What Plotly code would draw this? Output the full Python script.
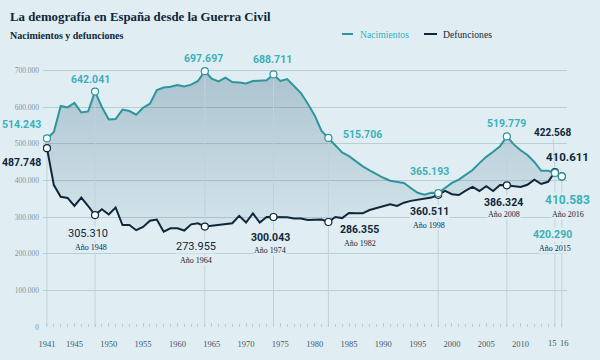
import plotly.graph_objects as go

# ---------------- data ----------------
years = list(range(1941, 2017))
births = [
    514243, 532000, 603000, 599000, 611000, 585000, 588000, 642041, 600000, 566000,
    567000, 593000, 589000, 579000, 598000, 609000, 646000, 653000, 655000, 660000,
    656000, 661000, 671000, 697697, 677000, 670000, 680000, 668000, 667000, 664000,
    671000, 671000, 673000, 688711, 671000, 676000, 656000, 638000, 609000, 577000,
    535000, 515706, 494000, 476000, 466000, 452000, 438000, 427000, 416000, 407000,
    399000, 395000, 393000, 379000, 366000, 361000, 366000, 365193, 379000, 393000,
    402000, 416000, 428000, 447000, 464000, 478000, 493000, 519779, 498000, 482000,
    469000, 450000, 426000, 426000, 420290, 410583,
]
deaths = [
    487748, 387000, 355000, 352000, 330000, 353000, 330000, 305310, 321000, 307000,
    326000, 278000, 278000, 264000, 273000, 290000, 293000, 260000, 269000, 269000,
    263000, 280000, 283000, 273955, 276000, 278000, 282000, 283000, 303000, 285000,
    310000, 285000, 300000, 300043, 300000, 299000, 296000, 296000, 292000, 292000,
    293000, 286355, 300000, 297000, 311000, 310000, 310000, 319000, 325000, 330000,
    335000, 330000, 339000, 344000, 347000, 350000, 353000, 360511, 371000, 362000,
    360000, 372000, 382000, 371000, 384000, 371000, 387000, 386324, 384000, 382000,
    388000, 402000, 390000, 396000, 422568, 410611,
]
hl_years = [1941, 1948, 1964, 1974, 1982, 1998, 2008, 2015, 2016]
x_tick_vals = [1941, 1945, 1950, 1955, 1960, 1965, 1970, 1975, 1980, 1985,
               1990, 1995, 2000, 2005, 2010]
x_tick_text = ["1941", "1945", "1950", "1955", "1960", "1965", "1970", "1975", "1980",
               "1985", "1990", "1995", "2000", "2005", "2010"]
x_end_ticks = [2015, 2016]
x_end_text = ["15", "16"]
y_tick_vals = [0, 100000, 200000, 300000, 400000, 500000, 600000, 700000]
series_names = ["Nacimientos", "Defunciones"]
title_text = "La demografía en España desde la Guerra Civil"
subtitle_text = "Nacimientos y defunciones"

# ---------------- styles ----------------
BG = "#e0eef3"
TEAL_LINE = "#2e959c"
TEAL_TEXT = "#3cb0b8"
DARK = "#10263a"
GRID = "#b8cdd6"
VLINE = "#bfd2da"
TICK_TXT = "#3f5969"
SERIF = "Liberation Serif"
SANS = "Roboto"

B = dict(zip(years, births))
D = dict(zip(years, deaths))


def fmt(v):
    return f"{v:,}".replace(",", ".")


# plot area in pixels: left 43, right 567, top ~63, bottom 327
L, R, T, BOT = 43, 33, 63, 33
PW, PH = 600 - L - R, 360 - T - BOT


def px(xp):
    return (xp - L) / PW


def py(yp):
    return (360 - BOT - yp) / PH


fig = go.Figure()

# fill base (deaths, invisible line)
fig.add_trace(go.Scatter(x=years, y=deaths, mode="lines", line=dict(width=0, color=DARK),
                         showlegend=False, hoverinfo="skip"))
# fill between births and deaths with vertical gradient
fig.add_trace(go.Scatter(
    x=years, y=births, mode="lines", line=dict(width=0, color=TEAL_LINE),
    fill="tonexty",
    fillgradient=dict(type="vertical", start=250000, stop=700000,
                      colorscale=[[0, "rgba(40,90,120,0.06)"], [1, "rgba(40,90,120,0.29)"]]),
    showlegend=False, hoverinfo="skip"))

# vertical reference lines at highlighted years
for yr in hl_years:
    fig.add_trace(go.Scatter(x=[yr, yr], y=[0, max(B[yr], D[yr])], mode="lines",
                             line=dict(color=VLINE, width=1), showlegend=False,
                             hoverinfo="skip"))

# lines
fig.add_trace(go.Scatter(x=years, y=births, mode="lines", name=series_names[0],
                         line=dict(color=TEAL_LINE, width=2), showlegend=False))
fig.add_trace(go.Scatter(x=years, y=deaths, mode="lines", name=series_names[1],
                         line=dict(color=DARK, width=2), showlegend=False))

# highlighted markers
fig.add_trace(go.Scatter(x=hl_years, y=[D[y] for y in hl_years], mode="markers",
                         marker=dict(size=7, color="white", line=dict(color=DARK, width=1.2)),
                         showlegend=False, hoverinfo="skip"))
fig.add_trace(go.Scatter(x=hl_years, y=[B[y] for y in hl_years], mode="markers",
                         marker=dict(size=7, color="white", line=dict(color=TEAL_LINE, width=1.2)),
                         showlegend=False, hoverinfo="skip"))

ann = []


def lab(yr, val, text, color, size, dx, dy, family=SANS, bold=True, anchor="center", bg=True):
    ann.append(dict(
        x=yr, y=val, xref="x", yref="y", text=f"<b>{text}</b>" if bold else text,
        showarrow=False, xshift=dx, yshift=dy, xanchor=anchor, yanchor="middle",
        font=dict(family=family, size=size, color=color),
        bgcolor=BG if bg else "rgba(0,0,0,0)", borderpad=0))


def ano(yr, val, dx, dy):
    lab(yr, val, f"Año {yr}", DARK, 8, dx, dy, family=SERIF, bold=False)


# births labels (teal)
lab(1941, B[1941], fmt(B[1941]), TEAL_TEXT, 10.5, -5, 14, anchor="right", bg=False)
lab(1948, B[1948], fmt(B[1948]), TEAL_TEXT, 10.5, -5, 12, bg=False)
lab(1964, B[1964], fmt(B[1964]), TEAL_TEXT, 10.5, -1, 13, bg=False)
lab(1974, B[1974], fmt(B[1974]), TEAL_TEXT, 10.5, -1, 15, bg=False)
lab(1982, B[1982], fmt(B[1982]), TEAL_TEXT, 10.5, 14, 3, anchor="left", bg=False)
lab(1998, B[1998], fmt(B[1998]), TEAL_TEXT, 10.5, -9, 22, bg=False)
lab(2008, B[2008], fmt(B[2008]), TEAL_TEXT, 10.5, 0, 13, bg=False)
lab(2015, B[2015], fmt(B[2015]), TEAL_TEXT, 10.5, -2, -62)
ano(2015, B[2015], 0, -76)
lab(2016, B[2016], fmt(B[2016]), TEAL_TEXT, 12, 6, -24)
ano(2016, B[2016], 6, -38)

# deaths labels (dark)
lab(1941, D[1941], fmt(D[1941]), DARK, 10.5, -5, -14, anchor="right", bg=False)
lab(1948, D[1948], fmt(D[1948]), DARK, 11, -7, -18, bold=False)
ano(1948, D[1948], -4, -32)
lab(1964, D[1964], fmt(D[1964]), DARK, 11, -9, -20, bold=False)
ano(1964, D[1964], -9, -34)
lab(1974, D[1974], fmt(D[1974]), DARK, 10.5, -3, -21)
ano(1974, D[1974], -3, -34)
lab(1982, D[1982], fmt(D[1982]), DARK, 10.5, 31, -7)
ano(1982, D[1982], 32, -21)
lab(1998, D[1998], fmt(D[1998]), DARK, 10.5, -9, -17)
ano(1998, D[1998], -9, -31)
lab(2008, D[2008], fmt(D[2008]), DARK, 10.5, -3, -17)
ano(2008, D[2008], -3, -29)
lab(2016, D[2016], fmt(D[2016]), DARK, 11.5, 6, 19, bg=False)
ann.append(dict(x=2015, y=D[2015], xref="x", yref="y", text=f"<b>{fmt(D[2015])}</b>",
                showarrow=True, arrowhead=0, arrowwidth=1, arrowcolor=VLINE,
                ax=-2, ay=-40, standoff=4,
                font=dict(family=SANS, size=10, color=DARK)))

# last two x tick labels ("15", "16") placed side by side under their ticks
for yr, txt, anc, sh in [(x_end_ticks[0], x_end_text[0], "right", 3),
                         (x_end_ticks[1], x_end_text[1], "left", -3)]:
    ann.append(dict(x=yr, y=0, xref="x", yref="y", text=txt, showarrow=False,
                    xanchor=anc, yanchor="middle", xshift=sh, yshift=-16, borderpad=0,
                    font=dict(family=SERIF, size=8.5, color=TICK_TXT)))

# title & subtitle
ann.append(dict(x=px(8), y=py(17), xref="paper", yref="paper", text=f"<b>{title_text}</b>",
                showarrow=False, xanchor="left", yanchor="middle",
                font=dict(family=SERIF, size=12.8, color=DARK)))
ann.append(dict(x=px(8), y=py(36), xref="paper", yref="paper", text=f"<b>{subtitle_text}</b>",
                showarrow=False, xanchor="left", yanchor="middle",
                font=dict(family=SERIF, size=10, color=DARK)))

# custom legend
shapes = []
for name, col, tcol, x0, x1, xt in [(series_names[0], TEAL_LINE, TEAL_TEXT, 342, 353, 358),
                                    (series_names[1], DARK, DARK, 424, 437, 441)]:
    shapes.append(dict(type="line", xref="paper", yref="paper", x0=px(x0), x1=px(x1),
                       y0=py(34), y1=py(34), line=dict(color=col, width=2)))
    ann.append(dict(x=px(xt), y=py(34), xref="paper", yref="paper", text=name,
                    showarrow=False, xanchor="left", yanchor="middle",
                    font=dict(family=SERIF, size=9.7, color=tcol)))

fig.update_layout(
    width=600, height=360,
    margin=dict(l=L, r=R, t=T, b=BOT, autoexpand=False),
    paper_bgcolor=BG, plot_bgcolor=BG,
    separators=",.",
    showlegend=False,
    annotations=ann, shapes=shapes,
    xaxis=dict(range=[1940.42, 2016.76], tickvals=x_tick_vals + x_end_ticks,
               ticktext=x_tick_text + ["", ""],
               tickangle=0, automargin=False,
               showgrid=False, zeroline=False, showline=False,
               ticks="inside", ticklen=4, tickcolor=GRID,
               minor=dict(dtick=1, tick0=1941, ticks="inside", ticklen=3, tickcolor=GRID),
               tickfont=dict(family=SERIF, size=8.5, color=TICK_TXT),
               ticklabelstandoff=10, fixedrange=True),
    yaxis=dict(range=[0, 720000], tickvals=y_tick_vals, tickformat=",d",
               automargin=False,
               showgrid=True, gridcolor=GRID, gridwidth=1, zeroline=False, showline=False,
               tickfont=dict(family=SERIF, size=7.5, color="#7b96a3"),
               ticklabelstandoff=3, fixedrange=True),
)

fig.write_html("out.html", config={"displayModeBar": False},
               post_script="document.body.style.margin='0';document.body.style.padding='0';")
